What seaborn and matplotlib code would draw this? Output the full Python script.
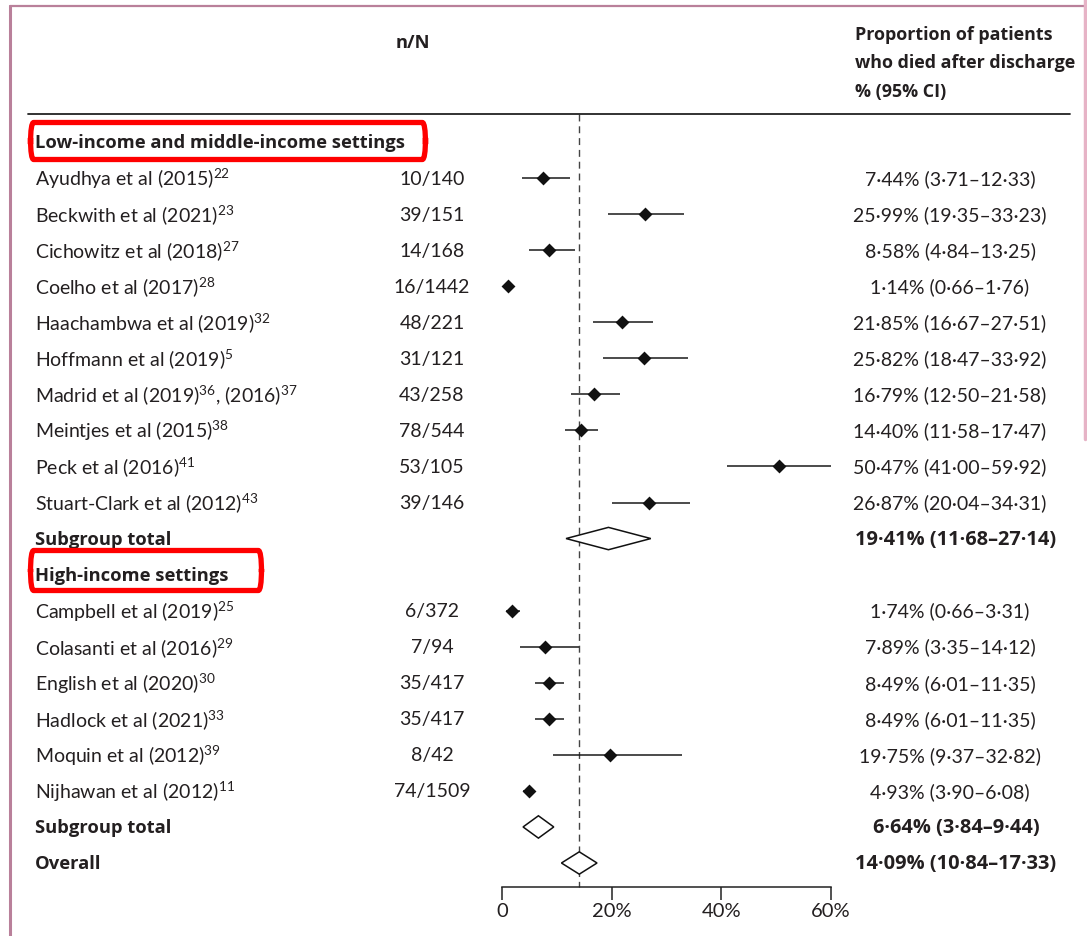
import matplotlib
matplotlib.use("Agg")
import matplotlib.pyplot as plt
from matplotlib.patches import FancyBboxPatch, Polygon
from matplotlib.lines import Line2D
import seaborn as sns
import pandas as pd
import numpy as np

# ---------------- data ----------------
lmic_studies = ["Ayudhya et al (2015)$^{\\mathrm{22}}$", "Beckwith et al (2021)$^{\\mathrm{23}}$",
                "Cichowitz et al (2018)$^{\\mathrm{27}}$", "Coelho et al (2017)$^{\\mathrm{28}}$",
                "Haachambwa et al (2019)$^{\\mathrm{32}}$", "Hoffmann et al (2019)$^{\\mathrm{5}}$",
                "Madrid et al (2019)$^{\\mathrm{36}}$, (2016)$^{\\mathrm{37}}$", "Meintjes et al (2015)$^{\\mathrm{38}}$",
                "Peck et al (2016)$^{\\mathrm{41}}$", "Stuart-Clark et al (2012)$^{\\mathrm{43}}$"]
lmic_nN = ["10/140", "39/151", "14/168", "16/1442", "48/221", "31/121", "43/258", "78/544", "53/105", "39/146"]
lmic_est = [7.44, 25.99, 8.58, 1.14, 21.85, 25.82, 16.79, 14.40, 50.47, 26.87]
lmic_lo = [3.71, 19.35, 4.84, 0.66, 16.67, 18.47, 12.50, 11.58, 41.00, 20.04]
lmic_hi = [12.33, 33.23, 13.25, 1.76, 27.51, 33.92, 21.58, 17.47, 59.92, 34.31]

hic_studies = ["Campbell et al (2019)$^{\\mathrm{25}}$", "Colasanti et al (2016)$^{\\mathrm{29}}$",
               "English et al (2020)$^{\\mathrm{30}}$", "Hadlock et al (2021)$^{\\mathrm{33}}$",
               "Moquin et al (2012)$^{\\mathrm{39}}$", "Nijhawan et al (2012)$^{\\mathrm{11}}$"]
hic_nN = ["6/372", "7/94", "35/417", "35/417", "8/42", "74/1509"]
hic_est = [1.74, 7.89, 8.49, 8.49, 19.75, 4.93]
hic_lo = [0.66, 3.35, 6.01, 6.01, 9.37, 3.90]
hic_hi = [3.31, 14.12, 11.35, 11.35, 32.82, 6.08]

pooled_labels = ["Subgroup total", "Subgroup total", "Overall"]
pooled_est = [19.41, 6.64, 14.09]
pooled_lo = [11.68, 3.84, 10.84]
pooled_hi = [27.14, 9.44, 17.33]

group_titles = ["Low-income and middle-income settings", "High-income settings"]
x_ticks = [0, 20, 40, 60]
x_ticklabels = ["0", "20%", "40%", "60%"]

# ---------------- style ----------------
sns.set_theme(style="white")
plt.rcParams["font.family"] = ["Lato", "DejaVu Sans"]
plt.rcParams["mathtext.fontset"] = "custom"
plt.rcParams["mathtext.rm"] = "Lato"
plt.rcParams["mathtext.it"] = "Lato:italic"
plt.rcParams["mathtext.bf"] = "Lato:bold"
TXT = "#231f20"
FS = 14
BFAM = ["Open Sans", "DejaVu Sans"]
BFS = 13.2

W, H = 1087, 937
fig = plt.figure(figsize=(W / 100, H / 100), dpi=100)
ax = fig.add_axes([0, 0, 1, 1])

# pixel -> data helpers (layout only)
PX0, PXU = 502.0, (831.0 - 502.0) / 60.0
PY0, PYU = 143.0, 36.05
def X(px):
    return (px - PX0) / PXU
def Y(py):
    return (py - PY0) / PYU

ax.set_xlim(X(0), X(W))
ax.set_ylim(Y(H), Y(0))

# ---------------- rows ----------------
fmt = lambda v: f"{v:.2f}".replace(".", "\u00b7")
def ci_text(e, l, h):
    return f"{fmt(e)}% ({fmt(l)}\u2013{fmt(h)})"

rows_study = []
r = 1
for s, n, e, l, h in zip(lmic_studies, lmic_nN, lmic_est, lmic_lo, lmic_hi):
    rows_study.append(dict(row=r, study=s, nN=n, est=e, lo=l, hi=h)); r += 1
sub1_row = r; r += 1
grp2_row = r; r += 1
for s, n, e, l, h in zip(hic_studies, hic_nN, hic_est, hic_lo, hic_hi):
    rows_study.append(dict(row=r, study=s, nN=n, est=e, lo=l, hi=h)); r += 1
sub2_row = r; r += 1
overall_row = r
df = pd.DataFrame(rows_study)
pooled_rows = [sub1_row, sub2_row, overall_row]
group_rows = [0, grp2_row]

# dashed overall line
ax.plot([pooled_est[2], pooled_est[2]], [Y(115), Y(888)], color="#444444", lw=1.0,
        dashes=(5, 3.5), zorder=1)

# CI lines
ax.hlines(df["row"], df["lo"], df["hi"], color="#1a1a1a", lw=1.1, zorder=2)
# point estimates
diamond = [(0, 1), (1, 0), (0, -1), (-1, 0), (0, 1)]
sns.scatterplot(data=df, x="est", y="row", marker=diamond, s=100, color="#111111",
                linewidth=0, ax=ax, zorder=3, legend=False)

# pooled diamonds
for e, l, h, rr in zip(pooled_est, pooled_lo, pooled_hi, pooled_rows):
    hh = 0.31
    poly = Polygon([(l, rr), (e, rr - hh), (h, rr), (e, rr + hh)], closed=True,
                   facecolor="white", edgecolor="#111111", lw=1.1, zorder=3)
    ax.add_patch(poly)

# ---------------- text ----------------
for _, rw in df.iterrows():
    ax.text(X(35), rw["row"], rw["study"], ha="left", va="center", fontsize=FS, color=TXT)
    ax.text(X(432), rw["row"], rw["nN"], ha="center", va="center", fontsize=FS, color=TXT)
    ax.text(X(950), rw["row"], ci_text(rw["est"], rw["lo"], rw["hi"]), ha="center",
            va="center", fontsize=FS, color=TXT)
for lab, e, l, h, rr in zip(pooled_labels, pooled_est, pooled_lo, pooled_hi, pooled_rows):
    ax.text(X(35), rr, lab, ha="left", va="center", fontsize=BFS, color=TXT,
            fontweight="bold", family=BFAM)
    ax.text(X(956), rr, ci_text(e, l, h), ha="center", va="center", fontsize=14.4,
            color=TXT, fontweight="bold", family=BFAM)
for t, rr in zip(group_titles, group_rows):
    ax.text(X(35), rr, t, ha="left", va="center", fontsize=BFS, color=TXT,
            fontweight="bold", family=BFAM)

# headers
ax.text(X(413), Y(43), "n/N", ha="center", va="center", fontsize=BFS, color=TXT,
        fontweight="bold", family=BFAM)
for i, line in enumerate(["Proportion of patients", "who died after discharge", "% (95% CI)"]):
    ax.text(X(855), Y(35 + 28.5 * i), line, ha="left", va="center", fontsize=12.9,
            color=TXT, fontweight="bold", family=BFAM)
ax.plot([X(28), X(1070)], [Y(115), Y(115)], color="#222222", lw=1.3, zorder=1)

# red highlight boxes
for (x0, y0, x1, y1) in [(30.5, 123.5, 425.5, 160.5), (30.5, 551.5, 261.5, 591.5)]:
    box = FancyBboxPatch((X(x0), Y(y0)), X(x1) - X(x0), Y(y1) - Y(y0),
                         boxstyle="round,pad=0,rounding_size=0.6", transform=ax.transData,
                         fill=False, edgecolor="#ff0000", lw=3.8, zorder=4)
    ax.add_patch(box)

# decorative page border
fig.add_artist(Line2D([10 / W, 10 / W], [0, 1 - 7 / H], transform=fig.transFigure,
                      color="#b9809a", lw=2.2))
fig.add_artist(Line2D([10 / W, 1], [1 - 7 / H, 1 - 7 / H], transform=fig.transFigure,
                      color="#b9809a", lw=1.6))
fig.add_artist(Line2D([1085 / W, 1085 / W], [1, 1 - 440 / H], transform=fig.transFigure,
                      color="#e6b3c6", lw=2.5))

# ---------------- axis ----------------
for sp in ["top", "right", "left"]:
    ax.spines[sp].set_visible(False)
ax.spines["bottom"].set_position(("data", Y(888)))
ax.spines["bottom"].set_bounds(0, 60)
ax.spines["bottom"].set_color("#222222")
ax.spines["bottom"].set_linewidth(1.1)
ax.set_xticks(x_ticks)
ax.set_xticklabels(x_ticklabels)
ax.tick_params(axis="x", direction="out", length=9, width=1.1, color="#222222",
               labelsize=14.5, labelcolor=TXT, pad=2, bottom=True)
ax.set_yticks([])
ax.set_xlabel("")
ax.set_ylabel("")
ax.patch.set_alpha(0)

fig.savefig("out.png", dpi=100, facecolor="white")
